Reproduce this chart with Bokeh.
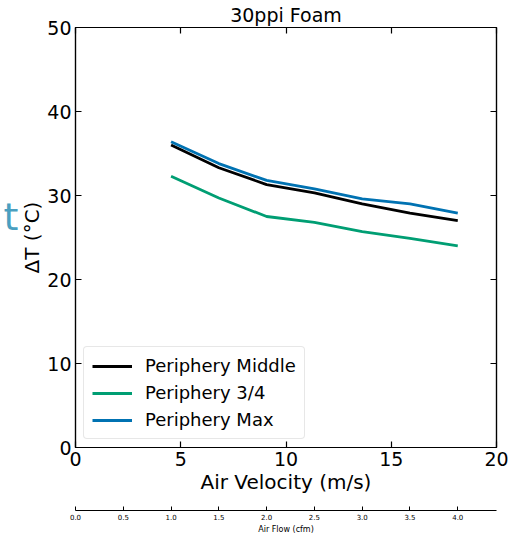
from bokeh.plotting import figure
from bokeh.models import (LinearAxis, Range1d, Legend, LegendItem, Title,
                          FixedTicker, CustomJSTickFormatter)
from bokeh.embed import file_html
from bokeh.resources import INLINE

velocity = [4.54, 6.81, 9.08, 11.35, 13.62, 15.89, 18.16]
periphery_middle = [36.0, 33.3, 31.3, 30.3, 29.0, 27.9, 27.0]
periphery_34 = [32.3, 29.7, 27.5, 26.8, 25.7, 24.9, 24.0]
periphery_max = [36.4, 33.8, 31.8, 30.8, 29.6, 29.0, 27.9]
series_names = ["Periphery Middle", "Periphery 3/4", "Periphery Max"]
x_ticks = [0, 5, 10, 15, 20]
y_ticks = [0, 10, 20, 30, 40, 50]
cfm_ticks = [0.0, 0.5, 1.0, 1.5, 2.0, 2.5, 3.0, 3.5, 4.0]
cfm_per_velocity = 1 / 4.54
side_text = "t"
side_text_pos = [27.5]

FONT = "DejaVu Sans"

p = figure(width=512, height=536, output_backend="svg", toolbar_location=None,
           x_range=Range1d(0, 20), y_range=Range1d(0, 50),
           min_border_left=70, min_border_right=16, min_border_top=6,
           min_border_bottom=0, x_axis_location=None, y_axis_location=None)
p.grid.visible = False
p.outline_line_color = "black"
p.outline_line_width = 1.2
p.background_fill_color = "white"
p.border_fill_color = "white"

p.title.text = "30ppi Foam"
p.title.align = "center"
p.title.text_font = FONT
p.title.text_font_size = "19px"
p.title.text_font_style = "normal"
p.title.text_color = "black"
p.title.standoff = 3

EMPTY = CustomJSTickFormatter(code="return '';")


def style_axis(ax, labels=True):
    ax.major_tick_in = 6
    ax.major_tick_out = 0
    ax.minor_tick_in = 0
    ax.minor_tick_out = 0
    ax.axis_line_width = 1.2
    ax.axis_line_color = "black"
    ax.major_tick_line_width = 1.2
    ax.major_tick_line_color = "black"
    ax.major_label_text_font = FONT
    ax.major_label_text_color = "black"
    if labels:
        ax.major_label_text_font_size = "19px"
        ax.major_label_standoff = 4
    else:
        ax.formatter = EMPTY
        ax.major_label_text_font_size = "1px"
        ax.major_label_standoff = 0
    ax.axis_label_text_font = FONT
    ax.axis_label_text_font_style = "normal"
    ax.axis_label_text_font_size = "20px"
    ax.axis_label_text_color = "black"


xb = LinearAxis(ticker=FixedTicker(ticks=x_ticks), axis_label="Air Velocity (m/s)")
style_axis(xb)
xb.axis_label_standoff = 1
p.add_layout(xb, "below")

yl = LinearAxis(ticker=FixedTicker(ticks=y_ticks), axis_label="ΔT (°C)")
style_axis(yl)
yl.axis_label_standoff = 0
p.add_layout(yl, "left")

# partially visible side text at far left (as in the reference)
tax = LinearAxis(ticker=FixedTicker(ticks=side_text_pos),
                 formatter=CustomJSTickFormatter(code="return '%s';" % side_text))
tax.axis_line_color = None
tax.major_tick_line_color = None
tax.minor_tick_line_color = None
tax.major_tick_in = 0
tax.major_tick_out = 0
tax.major_label_standoff = -1
tax.major_label_text_font = FONT
tax.major_label_text_font_size = "38px"
tax.major_label_text_color = "#4a9fc0"
p.add_layout(tax, "left")

xt = LinearAxis(ticker=FixedTicker(ticks=x_ticks))
style_axis(xt, labels=False)
p.add_layout(xt, "above")

yr = LinearAxis(ticker=FixedTicker(ticks=y_ticks))
style_axis(yr, labels=False)
p.add_layout(yr, "right")

# spacer between the two bottom axes
p.add_layout(Title(text=" ", text_font_size="2px", standoff=10), "below")

p.extra_x_ranges = {"cfm": Range1d(0, 20 * cfm_per_velocity)}
xc = LinearAxis(x_range_name="cfm", ticker=FixedTicker(ticks=cfm_ticks),
                axis_label="Air Flow (cfm)",
                formatter=CustomJSTickFormatter(code="return tick.toFixed(1);"))
xc.major_tick_in = 4
xc.major_tick_out = 0
xc.minor_tick_in = 0
xc.minor_tick_out = 0
xc.axis_line_width = 1.2
xc.axis_line_color = "black"
xc.major_tick_line_color = "black"
xc.major_label_text_font = FONT
xc.major_label_text_font_size = "7px"
xc.major_label_text_color = "black"
xc.major_label_standoff = 3
xc.axis_label_text_font = FONT
xc.axis_label_text_font_style = "normal"
xc.axis_label_text_font_size = "8px"
xc.axis_label_text_color = "black"
xc.axis_label_standoff = 2
p.add_layout(xc, "below")

colors = ["#000000", "#009E73", "#0072B2"]
renderers = []
for ys, c in zip([periphery_middle, periphery_34, periphery_max], colors):
    r = p.line(velocity, ys, line_color=c, line_width=2.8)
    renderers.append(r)

legend = Legend(items=[LegendItem(label=n, renderers=[r]) for n, r in zip(series_names, renderers)],
                location="bottom_left")
legend.label_text_font = FONT
legend.label_text_font_size = "18px"
legend.label_text_color = "black"
legend.glyph_width = 40
legend.glyph_height = 20
legend.label_standoff = 13
legend.spacing = 6
legend.padding = 8
legend.margin = 8
legend.border_line_color = "#d0d0d0"
legend.border_line_width = 1
legend.border_radius = 4
legend.background_fill_alpha = 0.8
p.add_layout(legend, "center")

open("out.html", "w").write(file_html(p, INLINE))
